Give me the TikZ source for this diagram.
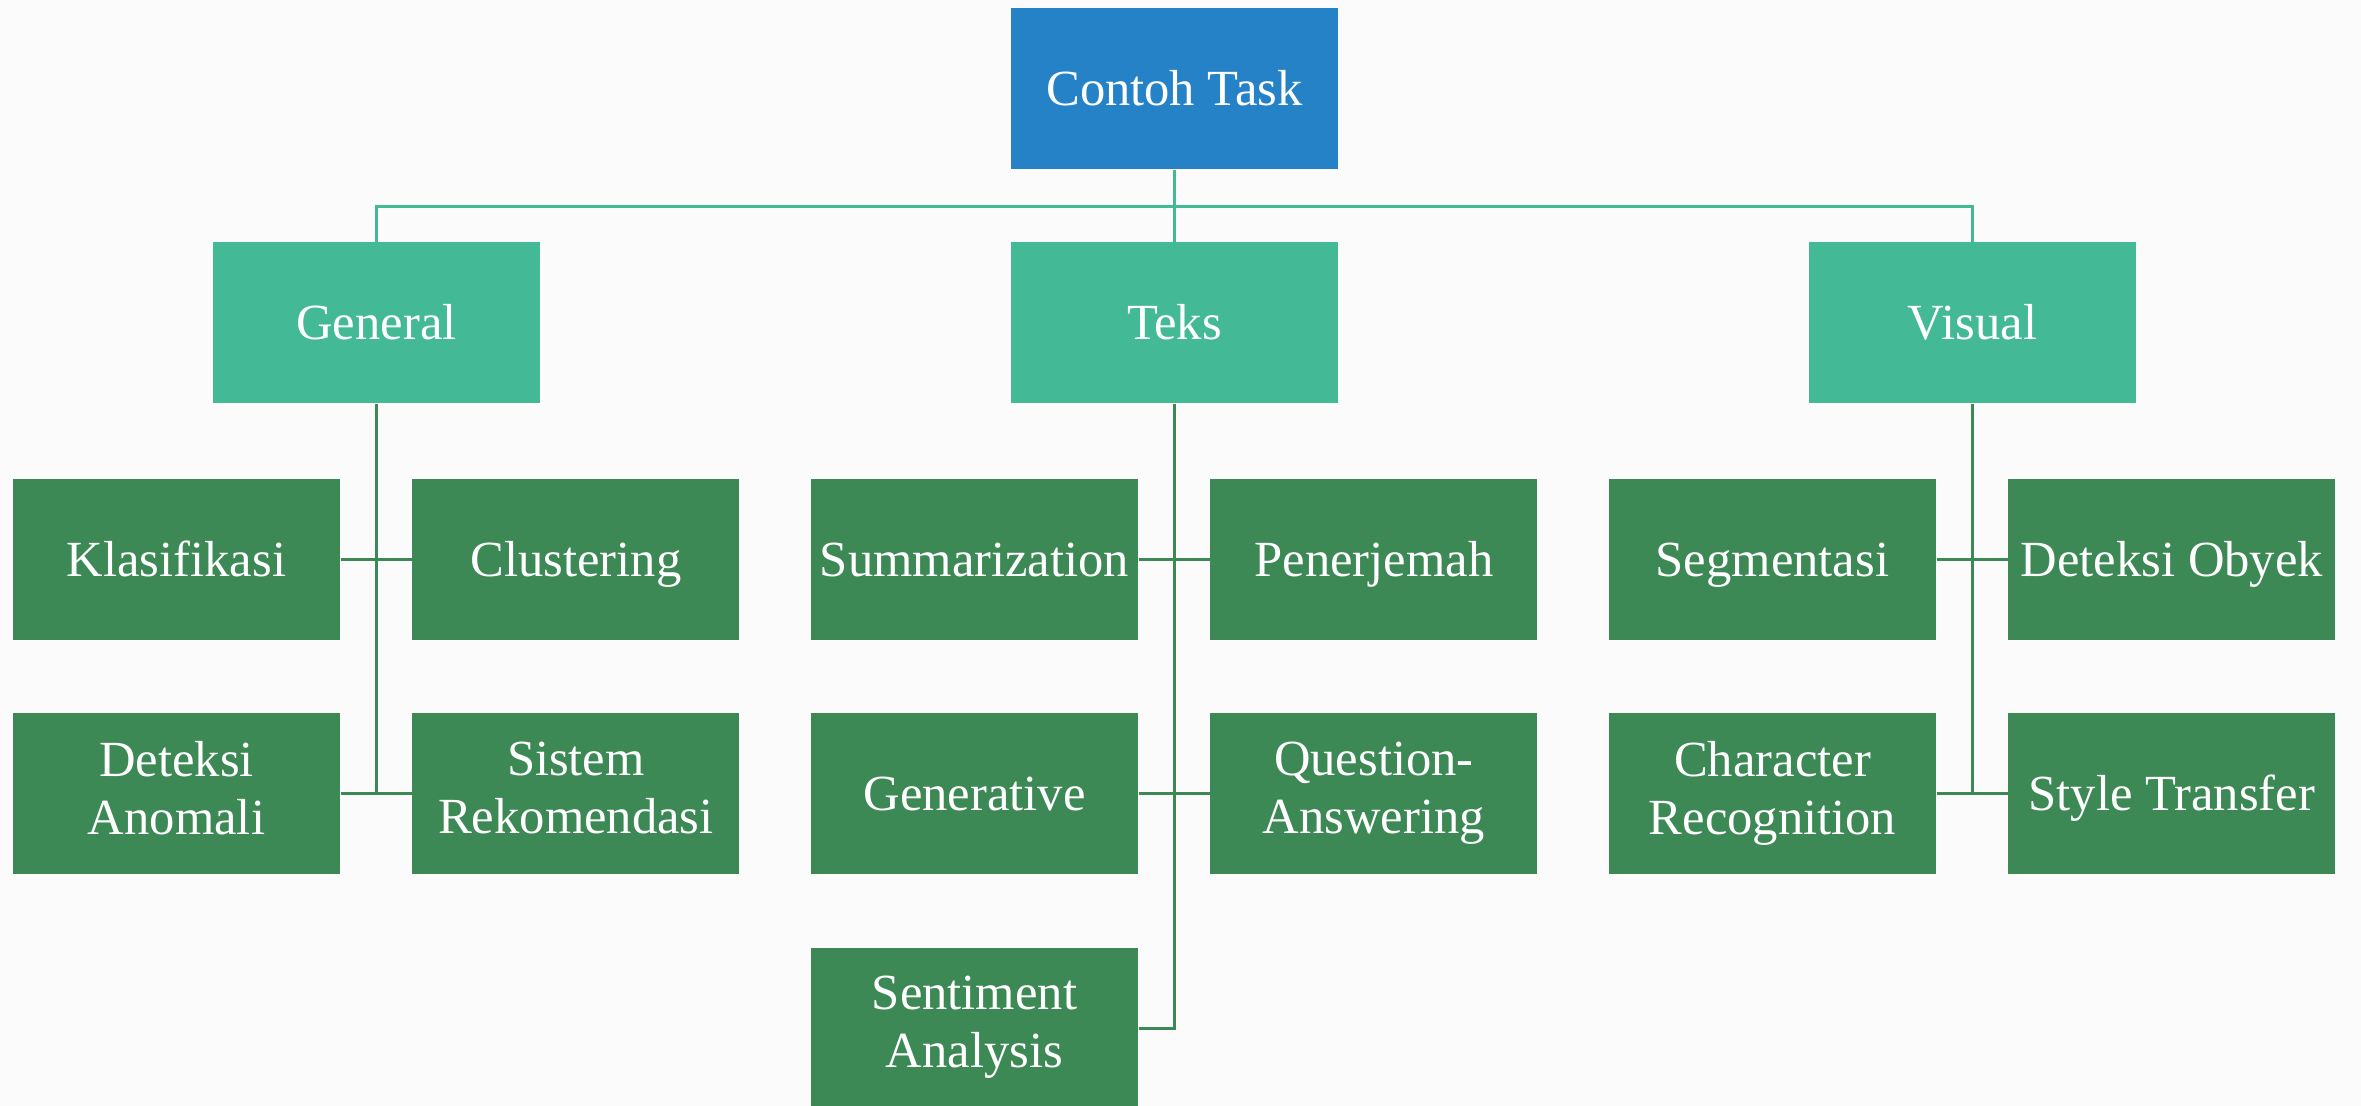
\documentclass[tikz,border=0pt]{standalone}
\usepackage{fontspec}
\setmainfont{Liberation Serif}
\usetikzlibrary{positioning}
\definecolor{taskblue}{HTML}{2682C7}
\definecolor{kattosca}{HTML}{43BA95}
\definecolor{subgreen}{HTML}{3D8955}
\definecolor{latar}{HTML}{FBFBFB}
\newcommand{\tegak}{\rule[-3.5pt]{0pt}{16.5pt}}

\begin{document}
\begin{tikzpicture}[level/.style={sibling distance=7.98cm,level distance=2.34cm},
		kotak/.style={rectangle,minimum width=3.27cm,minimum height=1.61cm,inner sep=2pt,text=white,align=center,font=\fontsize{14.4}{16.5}\selectfont,execute at begin node=\tegak,execute at end node=\tegak},
		garis/.style={draw=kattosca,line width=0.85pt},
		cabang/.style={draw=subgreen,line width=0.85pt},
		edge from parent path={(\tikzparentnode.south) -- ++(0,-0.36) -| (\tikzchildnode.north)}]
		\fill[latar] (0,0) rectangle (23.61,-11.06);
		\useasboundingbox (0,0) rectangle (23.61,-11.06);
		\node [kotak,fill=taskblue] (0) at (11.745,-0.89) {Contoh Task}
		child { node [kotak,fill=kattosca] (1) {General} edge from parent[garis] }
		child { node [kotak,fill=kattosca] (2) {Teks} edge from parent[garis] }
		child { node [kotak,fill=kattosca] (3) {Visual} edge from parent[garis] };
		% General
		\node [kotak,fill=subgreen,below=0.74cm of 1,xshift=-2cm] (4) {Klasifikasi};
		\node [kotak,fill=subgreen,right=0.71cm of 4] (5) {Clustering};
		\node [kotak,fill=subgreen,below=0.72cm of 4] (6) {Deteksi\\Anomali};
		\node [kotak,fill=subgreen,right=0.71cm of 6] (7) {Sistem\\Rekomendasi};
		% Teks
		\node [kotak,fill=subgreen,below=0.74cm of 2,xshift=-2cm] (8) {Summarization};
		\node [kotak,fill=subgreen,right=0.71cm of 8] (9) {Penerjemah};
		\node [kotak,fill=subgreen,below=0.72cm of 8] (10) {Generative};
		\node [kotak,fill=subgreen,right=0.71cm of 10] (11) {Question-\\Answering};
		\node [kotak,fill=subgreen,below=0.72cm of 10] (12) {Sentiment\\Analysis};
		% Visual
		\node [kotak,fill=subgreen,below=0.74cm of 3,xshift=-2cm] (13) {Segmentasi};
		\node [kotak,fill=subgreen,right=0.71cm of 13] (14) {Deteksi Obyek};
		\node [kotak,fill=subgreen,below=0.72cm of 13] (15) {Character\\Recognition};
		\node [kotak,fill=subgreen,right=0.71cm of 15] (16) {Style Transfer};
		\draw[cabang] (1.south) -- (1.south |- 6.east);
		\draw[cabang] (2.south) |- (12.east);
		\draw[cabang] (3.south) -- (3.south |- 15.east);
		\foreach \a/\b in {4/5,6/7,8/9,10/11,13/14,15/16}
			\draw[cabang] (\a.east) -- (\b.west);
	\end{tikzpicture}
\end{document}
